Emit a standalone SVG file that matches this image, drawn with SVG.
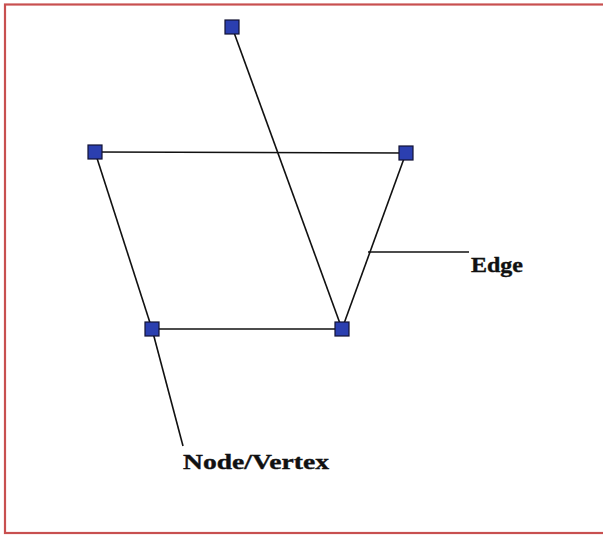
<svg xmlns="http://www.w3.org/2000/svg" width="603" height="536" viewBox="0 0 603 536">
<style>
.node{fill:#2b3fb0;stroke:#111133;stroke-width:1.2}
.edge{stroke:#111;stroke-width:1.6;fill:none}
.lbl{font-family:"Liberation Serif",serif;font-weight:bold;fill:#111;stroke:#111;stroke-width:0.4}
</style>
<rect x="0" y="0" width="603" height="536" fill="#fff"/>
<rect x="5" y="4.5" width="606" height="528.5" fill="none" stroke="#c85050" stroke-width="2.2"/>
<g id="connectors">
<line class="edge" x1="232" y1="27" x2="342" y2="329"/>
<line class="edge" x1="95" y1="152" x2="406" y2="153"/>
<line class="edge" x1="95" y1="152" x2="152" y2="329"/>
<line class="edge" x1="152" y1="329" x2="342" y2="329"/>
<line class="edge" x1="406" y1="153" x2="342" y2="329"/>
<line class="edge" x1="152" y1="329" x2="183" y2="446"/>
<line class="edge" x1="368" y1="252" x2="469" y2="252"/>
</g>
<g id="n1"><rect class="node" x="225" y="20" width="14" height="14"/></g>
<g id="n2"><rect class="node" x="88" y="145" width="14" height="14"/></g>
<g id="n3"><rect class="node" x="399" y="146" width="14" height="14"/></g>
<g id="n4"><rect class="node" x="145" y="322" width="14" height="14"/></g>
<g id="n5"><rect class="node" x="335" y="322" width="14" height="14"/></g>
<g id="label-edge"><text class="lbl" x="471" y="272" font-size="22" textLength="52" lengthAdjust="spacingAndGlyphs">Edge</text></g>
<g id="label-node"><text class="lbl" x="183" y="469" font-size="22" textLength="146" lengthAdjust="spacingAndGlyphs">Node/Vertex</text></g>
</svg>
